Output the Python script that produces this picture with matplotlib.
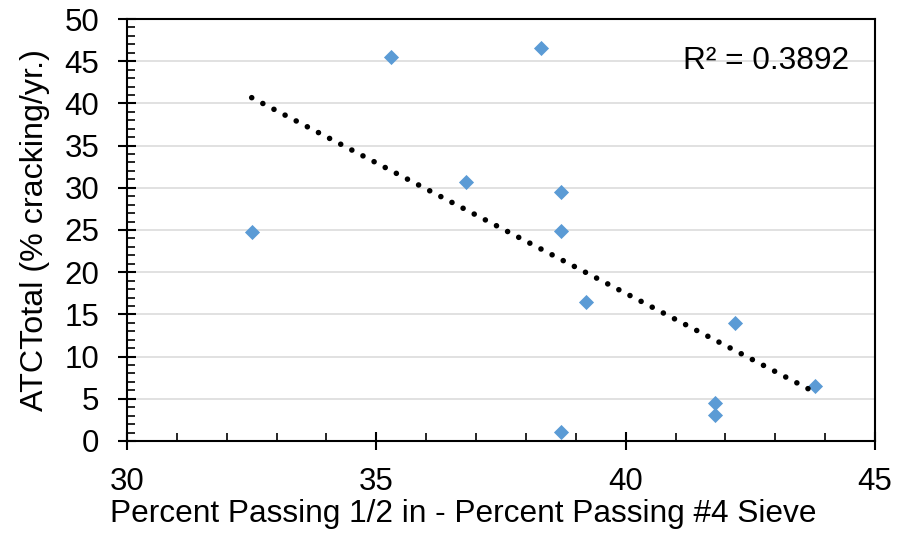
import numpy as np
import matplotlib
matplotlib.use('Agg')
import matplotlib.pyplot as plt
from matplotlib.ticker import MultipleLocator

# data
x = np.array([32.5, 35.3, 36.8, 38.3, 38.7, 38.7, 38.7, 39.2, 41.8, 41.8, 42.2, 43.8])
y = np.array([24.8, 45.5, 30.7, 46.6, 29.5, 24.9, 1.1, 16.5, 4.5, 3.1, 14.0, 6.5])
r2_label = 'R² = 0.3892'

plt.rcParams['font.family'] = ['Liberation Sans', 'DejaVu Sans']

# linear trendline (excel style)
p1 = np.polyfit(x, y, 1)

fig = plt.figure(figsize=(8.99, 5.48), dpi=100)
ax = fig.add_axes([0.1413, 0.1953, 0.8320, 0.7700])

ax.scatter(x, y, marker='D', s=7.7**2, color='#5B9BD5', zorder=3, linewidths=0)

xs = np.array([x.min(), x.max()])
ax.plot(xs, np.polyval(p1, xs), color='black', lw=4.0, linestyle=(0, (0.01, 2.25)),
        dash_capstyle='round', zorder=4)

ax.set_xlim(30, 45)
ax.set_ylim(0, 50)
ax.xaxis.set_major_locator(MultipleLocator(5))
ax.xaxis.set_minor_locator(MultipleLocator(1))
ax.yaxis.set_major_locator(MultipleLocator(5))
ax.yaxis.set_minor_locator(MultipleLocator(1))
ax.grid(axis='y', which='major', color='#D9D9D9', lw=1.1)
ax.set_axisbelow(True)
for s in ax.spines.values():
    s.set_linewidth(1.5)
    s.set_color('black')
ax.tick_params(which='major', direction='inout', length=13, width=1.5, labelsize=22.5)
ax.tick_params(which='minor', direction='in', length=5.5, width=1.2)
ax.tick_params(axis='x', which='major', pad=12)
ax.tick_params(axis='y', which='major', pad=13.5)

ax.set_xlabel('Percent Passing 1/2 in - Percent Passing #4 Sieve', fontsize=22.8, labelpad=2, x=0.449)
ax.set_ylabel('ATCTotal (% cracking/yr.)', fontsize=23.2, labelpad=10)
ax.text(0.966, 0.9, r2_label, transform=ax.transAxes, ha='right', va='center', fontsize=22.8)

fig.savefig('out.png', dpi=100)
